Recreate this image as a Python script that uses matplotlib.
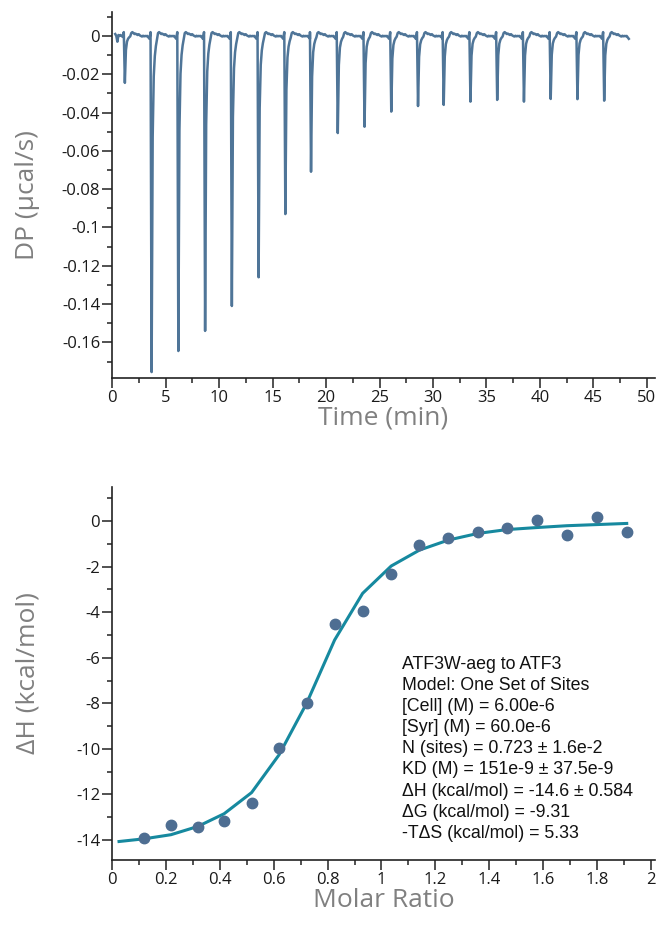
import numpy as np
import matplotlib
matplotlib.use('Agg')
import matplotlib.pyplot as plt
from matplotlib.ticker import MultipleLocator, FuncFormatter

# injection times (min) and peak minimum of each injection (ucal/s)
inj_time = [1.2, 3.7, 6.2, 8.7, 11.2, 13.7, 16.2, 18.6, 21.1, 23.6,
            26.1, 28.6, 31.0, 33.5, 36.0, 38.5, 41.0, 43.5, 46.0]
peak_dp = [-0.0245, -0.1755, -0.1645, -0.154, -0.141, -0.126, -0.093, -0.0709,
           -0.0507, -0.0474, -0.0395, -0.0366, -0.036, -0.0343, -0.0334,
           -0.0343, -0.0329, -0.033, -0.0338]

# shape of one injection, 0.1 min steps from -0.1 min
# first part as fraction of the peak, rest absolute baseline wiggle
peak_frac = [0.0, 1.0, 0.3, 0.12, 0.06, 0.03, 0.01]
base_wiggle = [0.0015, 0.002, 0.0015, 0.001, 0.0012, 0.0008, 0.0005, 0.0009,
               0.0003, 0.0, -0.0003, 0.0001, -0.0002, 0.0, -0.0001, 0.0,
               -0.0008, -0.0015]
spike_up = 0.002
# trace before the first injection
pre_t = [0.3, 0.4, 0.5, 0.6, 0.7, 0.8, 0.9, 1.0]
pre_dp = [0.001, 0.0, -0.003, 0.0005, 0.0, 0.0005, 0.0, -0.0005]

# isotherm
molar_ratio = [0.12, 0.219, 0.318, 0.416, 0.518, 0.620, 0.722, 0.826, 0.930,
               1.036, 1.141, 1.248, 1.357, 1.465, 1.577, 1.688, 1.799, 1.91]
dH = [-13.92, -13.36, -13.43, -13.19, -12.36, -9.98, -7.98, -4.50, -3.96,
      -2.34, -1.05, -0.73, -0.47, -0.29, 0.07, -0.61, 0.19, -0.47]
fit_x = [0.026, 0.12, 0.219, 0.318, 0.416, 0.518, 0.620, 0.722, 0.826, 0.930,
         1.036, 1.141, 1.248, 1.357, 1.465, 1.577, 1.688, 1.799, 1.91]
fit_y = [-14.07, -13.95, -13.77, -13.41, -12.85, -11.92, -10.26, -8.0, -5.22,
         -3.17, -1.97, -1.27, -0.83, -0.54, -0.37, -0.28, -0.2, -0.15, -0.10]

info = ["ATF3W-aeg to ATF3",
        "Model: One Set of Sites",
        "[Cell] (M) = 6.00e-6",
        "[Syr] (M) = 60.0e-6",
        "N (sites) = 0.723 \u00b1 1.6e-2",
        "KD (M) = 151e-9 \u00b1 37.5e-9",
        "\u0394H (kcal/mol) = -14.6 \u00b1 0.584",
        "\u0394G (kcal/mol) = -9.31",
        "-T\u0394S (kcal/mol) = 5.33"]

# build the DP trace
t = list(pre_t)
dp = list(pre_dp)
for ti, d in zip(inj_time, peak_dp):
    t.append(ti - 0.1)
    dp.append(spike_up)
    for k, f in enumerate(peak_frac[1:]):
        t.append(ti + 0.1 * k)
        dp.append(d * f)
    for k, b in enumerate(base_wiggle):
        t.append(ti + 0.6 + 0.1 * k)
        dp.append(b)
t = np.array(t)
dp = np.array(dp)

plt.rcParams['font.family'] = ['Open Sans', 'DejaVu Sans']
tick_col = '#1a1a1a'
lab_col = '#808080'

fig = plt.figure(figsize=(6.66, 9.38), dpi=100)
ax1 = fig.add_axes([0.1682, 0.5970, 0.8153, 0.3902])
ax2 = fig.add_axes([0.1682, 0.0832, 0.8153, 0.3976])


def fmt(v, pos):
    if abs(v) < 1e-9:
        return '0'
    return '%g' % round(v, 4)


for ax in (ax1, ax2):
    for s in ('top', 'right'):
        ax.spines[s].set_visible(False)
    for s in ('left', 'bottom'):
        ax.spines[s].set_linewidth(1.2)
        ax.spines[s].set_color('#222222')
    ax.tick_params(which='major', length=7, width=1.1, color='#222222',
                   labelsize=12, labelcolor=tick_col, pad=1.5)
    ax.tick_params(which='minor', length=3.5, width=1.1, color='#222222')
    ax.xaxis.set_major_formatter(FuncFormatter(fmt))
    ax.yaxis.set_major_formatter(FuncFormatter(fmt))

# top panel
ax1.plot(t, dp, color='#4f7598', lw=1.8)
ax1.set_xlim(0, 50.75)
ax1.set_ylim(-0.1786, 0.0125)
ax1.xaxis.set_major_locator(MultipleLocator(5))
ax1.xaxis.set_minor_locator(MultipleLocator(2.5))
ax1.yaxis.set_major_locator(MultipleLocator(0.02))
ax1.yaxis.set_minor_locator(MultipleLocator(0.01))
ax1.set_xlabel('Time (min)', fontsize=19, color=lab_col, labelpad=0)
ax1.set_ylabel('DP (\u00b5cal/s)', fontsize=19, color=lab_col)
ax1.yaxis.set_label_coords(-0.132, 0.5)

# bottom panel
ax2.plot(fit_x, fit_y, color='#16899f', lw=2.2, zorder=2)
ax2.plot(molar_ratio, dH, 'o', color='#4e6e92', ms=7.5, zorder=3)
ax2.set_xlim(0, 2.015)
ax2.set_ylim(-14.88, 1.5)
ax2.xaxis.set_major_locator(MultipleLocator(0.2))
ax2.xaxis.set_minor_locator(MultipleLocator(0.1))
ax2.yaxis.set_major_locator(MultipleLocator(2))
ax2.yaxis.set_minor_locator(MultipleLocator(1))
ax2.set_xlabel('Molar Ratio', fontsize=19, color=lab_col, labelpad=0)
ax2.set_ylabel('\u0394H (kcal/mol)', fontsize=19, color=lab_col)
ax2.yaxis.set_label_coords(-0.132, 0.5)

ax2.text(0.534, 0.548, '\n'.join(info), transform=ax2.transAxes,
         ha='left', va='top', fontsize=12.8, family='Liberation Sans',
         color='#111111', linespacing=1.32)

fig.savefig('out.png', dpi=100)
